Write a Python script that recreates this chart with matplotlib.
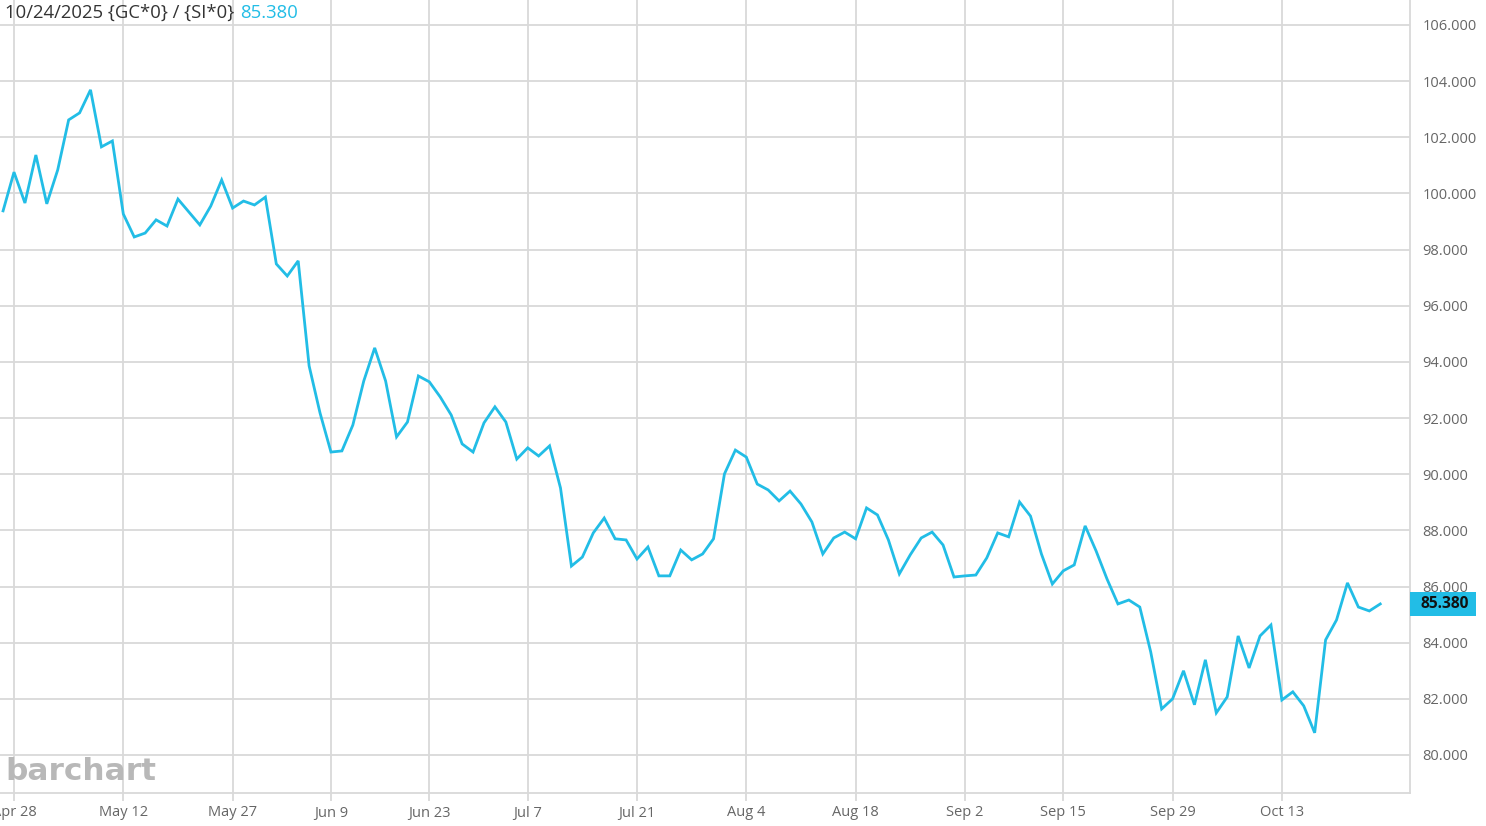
import matplotlib
matplotlib.use("Agg")
import matplotlib.pyplot as plt
import matplotlib.transforms as mtrans
from matplotlib.patches import Rectangle
import numpy as np
import pandas as pd

# gold / silver ratio, daily closes (Apr 25 .. Oct 24, 2025)
holidays = ["2025-05-26", "2025-06-19", "2025-07-04", "2025-09-01"]
dates = pd.bdate_range("2025-04-25", "2025-10-24").drop(pd.to_datetime(holidays))

ratio = [
    99.38, 100.76, 99.66, 101.37, 99.63, 100.84, 102.62, 102.87, 103.69, 101.66,
    101.87, 99.27, 98.45, 98.59, 99.06, 98.84, 99.80, 99.34, 98.88, 99.55,
    100.48, 99.48, 99.73, 99.59, 99.87, 97.49, 97.06, 97.60, 93.86, 92.18,
    90.79, 90.83, 91.75, 93.32, 94.50, 93.32, 91.33, 91.86, 93.50, 93.29,
    92.75, 92.11, 91.08, 90.79, 91.83, 92.40, 91.86, 90.54, 90.94, 90.65,
    91.01, 89.51, 86.73, 87.05, 87.91, 88.44, 87.70, 87.66, 86.98, 87.41,
    86.38, 86.38, 87.30, 86.95, 87.16, 87.70, 90.01, 90.86, 90.61, 89.65,
    89.44, 89.05, 89.40, 88.94, 88.30, 87.16, 87.73, 87.94, 87.70, 88.80,
    88.55, 87.66, 86.45, 87.13, 87.73, 87.94, 87.48, 86.34, 86.38, 86.41,
    87.02, 87.91, 87.77, 89.01, 88.51, 87.16, 86.09, 86.56, 86.77, 88.16,
    87.27, 86.27, 85.38, 85.52, 85.27, 83.67, 81.64, 82.00, 83.00, 81.79,
    83.39, 81.50, 82.07, 84.24, 83.10, 84.24, 84.63, 81.96, 82.25, 81.75,
    80.79, 84.10, 84.81, 86.13, 85.27, 85.13, 85.38,
]

tick_dates = ["2025-04-28", "2025-05-12", "2025-05-27", "2025-06-09", "2025-06-23",
              "2025-07-07", "2025-07-21", "2025-08-04", "2025-08-18", "2025-09-02",
              "2025-09-15", "2025-09-29", "2025-10-13"]
y_ticks = np.arange(80, 107, 2)

line_col = "#22bde6"
grid_col = "#d9d9d9"
text_col = "#666666"
plt.rcParams["font.family"] = ["Open Sans", "DejaVu Sans"]

x = np.arange(len(ratio))
tick_pos = [dates.get_loc(pd.Timestamp(d)) for d in tick_dates]
tick_lab = [pd.Timestamp(d).strftime("%b %-d") for d in tick_dates]

W, H = 1486, 826
fig = plt.figure(figsize=(W / 100, H / 100), dpi=100)
ax = fig.add_axes([0, 1 - 793 / H, 1410 / W, 793 / H])

ax.plot(x, ratio, color=line_col, lw=2.0, solid_joinstyle="miter", zorder=3)

# pixel mapping: Apr 28 at x=14, 10.93 px per day; 106 at y=25, 80 at y=755
px_day = 10.93
i0 = tick_pos[0]
ax.set_xlim(i0 - 14 / px_day, i0 + (1410 - 14) / px_day)
px_unit = 730 / 26
ax.set_ylim(80 - 38 / px_unit, 106 + 25 / px_unit)

ax.set_xticks(tick_pos)
ax.set_xticklabels(tick_lab)
ax.set_yticks(y_ticks)
ax.set_yticklabels([f"{v:.3f}" for v in y_ticks])
ax.yaxis.tick_right()
ax.grid(True, color=grid_col, lw=1.3)
ax.set_axisbelow(True)

for s in ["top", "left"]:
    ax.spines[s].set_visible(False)
for s in ["right", "bottom"]:
    ax.spines[s].set_color(grid_col)
    ax.spines[s].set_linewidth(1.3)

ax.tick_params(axis="x", colors=grid_col, length=6, width=1.3, labelcolor=text_col,
               labelsize=10.5, pad=3)
ax.tick_params(axis="y", length=0, labelcolor=text_col, labelsize=10.5, pad=9)

# last value tag on the axis
last = ratio[-1]
blend = mtrans.blended_transform_factory(ax.transAxes, ax.transData)
ax.add_patch(Rectangle((1.0, last - 12 / px_unit), 66 / 1410, 24 / px_unit,
                       transform=blend, fc=line_col, ec="none", clip_on=False, zorder=4))
ax.text(1.0 + 35 / 1410, last, f"{last:.3f}", transform=blend, ha="center", va="center",
        fontsize=11.2, fontweight="bold", color="#111111", zorder=5, clip_on=False)

# header
t1 = fig.text(5 / W, 1 - 13 / H, "10/24/2025 {GC*0} / {SI*0}", fontsize=13.3,
              color="#333333", va="center", ha="left")
ax.annotate(f"{last:.3f}", xy=(1, 0.5), xycoords=t1, xytext=(4, 0),
            textcoords="offset points", fontsize=13.3, color=line_col,
            va="center", ha="left")

# watermark
fig.text(5 / W, 1 - 772 / H, "barchart", fontsize=22.5, fontweight="bold",
         color="#b8b8b8", va="center", ha="left", family=["DejaVu Sans"])

fig.savefig("out.png", dpi=100)
